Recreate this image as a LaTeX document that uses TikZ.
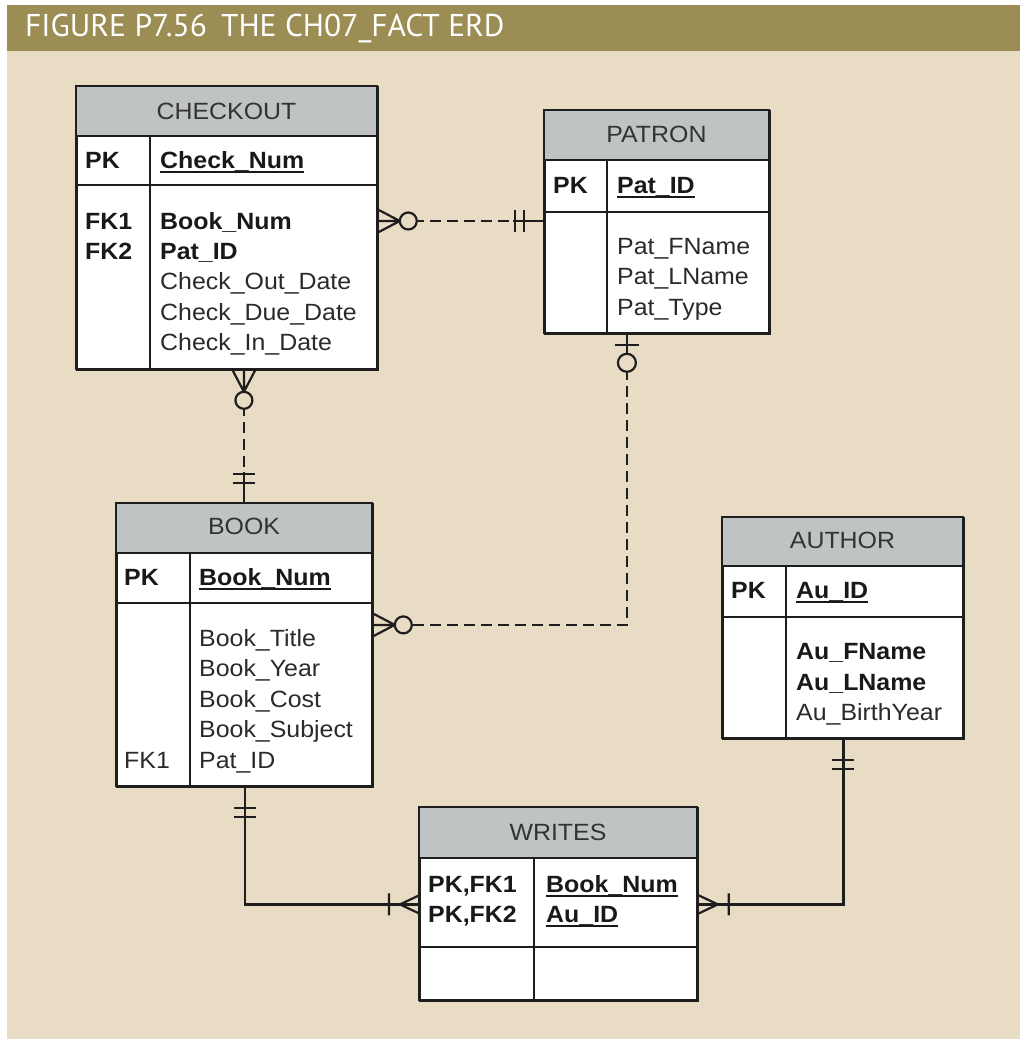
\documentclass[tikz,border=0pt]{standalone}
\usepackage{fontspec}
\setmainfont[FakeStretch=1.06]{Liberation Sans}
\newfontfamily\titlefont{PT Sans}
\usetikzlibrary{calc}
\definecolor{hdrolive}{HTML}{9B8D54}
\definecolor{bg}{HTML}{E8DCC5}
\definecolor{hdrgray}{HTML}{C0C3C4}
\definecolor{border}{HTML}{1E1E1E}
\definecolor{txtgray}{HTML}{2A2A2A}
\definecolor{hdrtxt}{HTML}{333333}
\newcommand\keyul[1]{\setbox0=\hbox{#1}\rlap{\rule[-5pt]{\wd0}{2pt}}\box0}
\newcommand\erdtable[8]{%
  \node[tbl, minimum width={#4-#2}, minimum height={#5-#3}] (#1) at (#2,#3) {};
  \fill[hdrgray] (#2,#3) rectangle (#4,#6);
  \draw[tline] (#2,#6) -- (#4,#6);
  \draw[tline] (#2,#7) -- (#4,#7);
  \draw[tline] (#8,#6) -- (#8,#5);
  \draw[tline] (#2,#3) rectangle (#4,#5);
}
\tikzset{
  tbl/.style={draw=border, line width=1.8pt, fill=white, inner sep=0pt, anchor=north west},
  tline/.style={draw=border, line width=1.8pt},
  txt/.style={anchor=base west, inner sep=0pt, font=\fontsize{23.5}{28}\selectfont, text=txtgray},
  btxt/.style={txt, font=\fontsize{23.5}{28}\selectfont\bfseries, text=black!90},
  htxt/.style={anchor=base, inner sep=0pt, font=\fontsize{23.5}{28}\selectfont, text=hdrtxt},
  conn/.style={draw=border, line width=2.2pt},
  dashpat/.style={dash pattern=on 11pt off 6pt},
  pics/crowo/.style={code={
    \draw[conn, solid] (0,11) -- (21,0) -- (0,-11) (0,0) -- (21,0);
    \draw[conn, solid, fill=bg] (29.5,0) circle[radius=8.5];
  }},
  pics/mandone/.style={code={
    \draw[conn, solid] (0,0) -- (31,0) (20,-11) -- (20,11) (29,-11) -- (29,11);
  }},
  pics/barzero/.style={code={
    \draw[conn, solid] (0,0) -- (20,0) (10,-12) -- (10,12);
    \draw[conn, solid, fill=bg] (28,0) circle[radius=9];
  }},
  pics/crowbar/.style={code={
    \draw[conn, solid] (0,9) -- (19,0) -- (0,-9) (0,0) -- (32,0) (30,-11) -- (30,11);
  }},
}
\begin{document}
\begin{tikzpicture}[x=1pt, y=-1pt]
\useasboundingbox (0,0) rectangle (1021,1039);
\fill[white] (0,0) rectangle (1021,1039);
\fill[bg] (7,51) rectangle (1020,1039);
\fill[hdrolive] (7,5) rectangle (1020,51);
\node[anchor=base west, inner sep=0pt, text=white, font=\titlefont\fontsize{31.5}{36}\selectfont] (title) at (25,36) {FIGURE P7.56\hspace{0.45em}THE CH07\_FACT ERD};

% CHECKOUT
\erdtable{checkout}{76}{86}{377}{369}{136}{185}{150}
\node[htxt] (ckh) at (226.5,119) {CHECKOUT};
\node[btxt] (ckpk) at (85,168) {PK};
\node[btxt] (ckid) at (160,168) {\keyul{Check\_Num}};
\node[btxt] (ckfk1) at (85,229) {FK1};
\node[btxt] (ckfk2) at (85,259.3) {FK2};
\node[btxt] (ckbook) at (160,229) {Book\_Num};
\node[btxt] (ckpat) at (160,259.3) {Pat\_ID};
\node[txt] (ckout) at (160,289.6) {Check\_Out\_Date};
\node[txt] (ckdue) at (160,320) {Check\_Due\_Date};
\node[txt] (ckin) at (160,350) {Check\_In\_Date};

% PATRON
\erdtable{patron}{544}{110}{769}{333}{160}{212}{607}
\node[htxt] (path) at (656.5,142) {PATRON};
\node[btxt] (patpk) at (553,193) {PK};
\node[btxt] (patid) at (617,193) {\keyul{Pat\_ID}};
\node[txt] (patf) at (617,254) {Pat\_FName};
\node[txt] (patl) at (617,284.5) {Pat\_LName};
\node[txt] (patt) at (617,315) {Pat\_Type};

% BOOK
\erdtable{book}{116}{503}{372}{786}{553}{603}{190}
\node[htxt] (bkh) at (244,534) {BOOK};
\node[btxt] (bkpk) at (124,585) {PK};
\node[btxt] (bkid) at (199,585) {\keyul{Book\_Num}};
\node[txt] (bkt) at (199,646) {Book\_Title};
\node[txt] (bky) at (199,676.5) {Book\_Year};
\node[txt] (bkc) at (199,707) {Book\_Cost};
\node[txt] (bks) at (199,737.5) {Book\_Subject};
\node[txt] (bkfk) at (124,768) {FK1};
\node[txt] (bkp) at (199,768) {Pat\_ID};

% AUTHOR
\erdtable{author}{722}{517}{963}{738}{566}{617}{786}
\node[htxt] (auh) at (842.5,548) {AUTHOR};
\node[btxt] (aupk) at (731,598) {PK};
\node[btxt] (auid) at (796,598) {\keyul{Au\_ID}};
\node[btxt] (auf) at (796,659) {Au\_FName};
\node[btxt] (aul) at (796,690) {Au\_LName};
\node[txt] (aub) at (796,720) {Au\_BirthYear};

% WRITES
\erdtable{writes}{419}{807}{697}{1000}{858}{947}{534}
\node[htxt] (wrh) at (558,840) {WRITES};
\node[btxt] (wrpk1) at (428,892) {PK,FK1};
\node[btxt] (wrpk2) at (428,922) {PK,FK2};
\node[btxt] (wrb) at (546,892) {\keyul{Book\_Num}};
\node[btxt] (wra) at (546,922) {\keyul{Au\_ID}};

% connector end points
\coordinate (A1) at ([yshift=-135pt]checkout.north east);
\coordinate (A2) at (A1 -| patron.west);
\coordinate (B1) at ([xshift=16.5pt]checkout.south);
\coordinate (B2) at (B1 |- book.north);
\coordinate (C1) at ([xshift=-30.5pt]patron.south);
\coordinate (C2) at ([yshift=20.5pt]book.east);
\coordinate (D1) at (book.south);
\coordinate (D2) at (writes.west);
\coordinate (E1) at (author.south);
\coordinate (E2) at (writes.east);

% CHECKOUT - PATRON
\draw[conn, dashpat] (A1) -- (A2);
\pic[rotate=0] at (A1) {crowo};
\pic[rotate=180] at (A2) {mandone};
% CHECKOUT - BOOK
\draw[conn, dashpat] (B1) -- (B2);
\pic[rotate=-90] at (B1) {crowo};
\pic[rotate=90] at (B2) {mandone};
% PATRON - BOOK
\draw[conn, dashpat] (C1) |- (C2);
\pic[rotate=-90] at (C1) {barzero};
\pic[rotate=0] at (C2) {crowo};
% BOOK - WRITES
\draw[conn] (D1) |- (D2);
\pic[rotate=-90] at (D1) {mandone};
\pic[rotate=180] at (D2) {crowbar};
% AUTHOR - WRITES
\draw[conn] (E1) |- (E2);
\pic[rotate=-90] at (E1) {mandone};
\pic[rotate=0] at (E2) {crowbar};
\end{tikzpicture}
\end{document}
